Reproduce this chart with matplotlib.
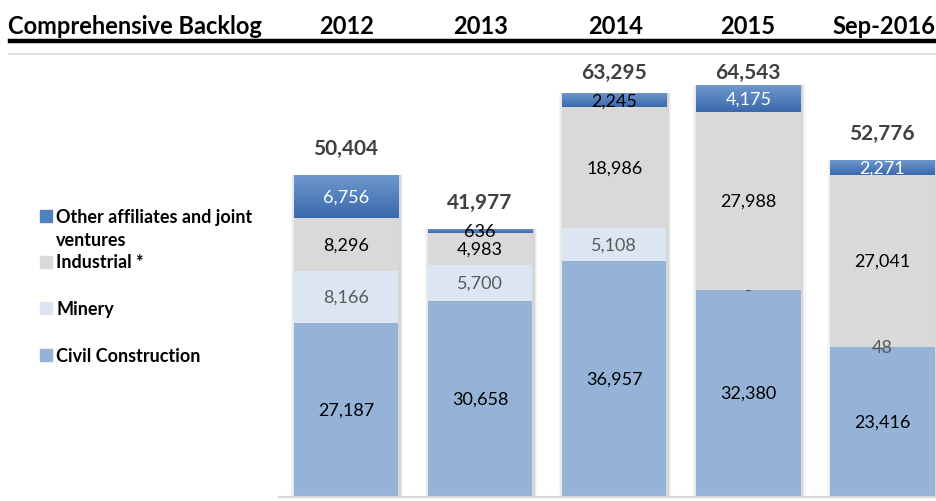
import numpy as np
import matplotlib
matplotlib.use("Agg")
import matplotlib.pyplot as plt
from matplotlib.colors import LinearSegmentedColormap

# ---------------- data ----------------
categories = ["2012", "2013", "2014", "2015", "Sep-2016"]
civil = [27187, 30658, 36957, 32380, 23416]
minery = [8166, 5700, 5108, 0, 48]
industrial = [8296, 4983, 18986, 27988, 27041]
other = [6756, 636, 2245, 4175, 2271]
totals = [50404, 41977, 63295, 64543, 52776]
minery_labels = ["8,166", "5,700", "5,108", "-", "48"]

series_names = ["Other affiliates and joint\nventures", "Industrial *", "Minery", "Civil Construction"]

# ---------------- style ----------------
C_CIVIL = "#95B3D7"
C_MIN = "#DCE6F2"
C_IND = "#D9D9D9"
C_OTH = "#4F81BD"
GRAD_TOP = "#6E97CD"
GRAD_BOT = "#3A69AC"

W, H = 936, 502
fig = plt.figure(figsize=(W / 100, H / 100), dpi=100)

def fx(px):
    return px / W

def fy(py):
    return 1 - py / H

HEAD_FONT = ["Lato", "DejaVu Sans"]
BODY_FONT = ["Lato", "DejaVu Sans"]

# axes: baseline at y=497, top at y=55, left at 279, right at 936
ax = fig.add_axes([fx(279), fy(497), fx(936) - fx(279), (497 - 55) / H])
ymax = 69450
xlim = (-0.5, 4.40)
width = 0.78
x = np.arange(len(categories))

civil_a = np.array(civil)
min_a = np.array(minery)
ind_a = np.array(industrial)
oth_a = np.array(other)

# soft shadow
for k, a in [(4, 0.03), (2.5, 0.05), (1.2, 0.08)]:
    dx = k / 134.0
    ax.bar(x + 1.0 / 134, civil_a + min_a + ind_a + oth_a, width=width + 2 * dx,
           color="#000000", alpha=a, linewidth=0, zorder=1)

ax.bar(x, civil_a, width=width, color=C_CIVIL, linewidth=0, zorder=2)
ax.bar(x, min_a, width=width, bottom=civil_a, color=C_MIN, linewidth=0, zorder=2)
ax.bar(x, ind_a, width=width, bottom=civil_a + min_a, color=C_IND, linewidth=0, zorder=2)
oth_bars = ax.bar(x, oth_a, width=width, bottom=civil_a + min_a + ind_a,
                  color=C_OTH, linewidth=0, zorder=2)

cmap = LinearSegmentedColormap.from_list("g", [GRAD_BOT, GRAD_TOP])
grad = np.linspace(0, 1, 64).reshape(-1, 1)
for p in oth_bars:
    x0, y0 = p.get_x(), p.get_y()
    im = ax.imshow(grad, cmap=cmap, origin="lower", aspect="auto",
                   extent=[x0, x0 + p.get_width(), y0, y0 + p.get_height()], zorder=3)
    im.set_clip_path(p)

ax.set_xlim(*xlim)
ax.set_ylim(0, ymax)
ax.axis("off")

# segment labels
lab_kw = dict(ha="center", va="center", fontsize=13, family=BODY_FONT, zorder=5)
for i in range(len(categories)):
    b0 = civil[i]
    ax.text(x[i], b0 / 2, f"{civil[i]:,}", color="#000000", **lab_kw)
    b1 = b0 + minery[i]
    ax.text(x[i], b0 + minery[i] / 2, minery_labels[i], color="#595959", **lab_kw)
    b2 = b1 + industrial[i]
    ax.text(x[i], b1 + industrial[i] / 2, f"{industrial[i]:,}", color="#000000", **lab_kw)
    small = other[i] < 2500 and i in (1, 2)
    ax.text(x[i], b2 + other[i] / 2, f"{other[i]:,}",
            color="#000000" if small else "#FFFFFF", **lab_kw)
    # totals
    ty = min(totals[i] + 4300, 66600)
    ax.text(x[i], ty, f"{totals[i]:,}", ha="center", va="center", fontsize=15,
            fontweight="bold", color="#404040", family=BODY_FONT, zorder=5)

# baseline
fig.add_artist(plt.Line2D([fx(279), 1], [fy(497.5), fy(497.5)], color="#D9D9D9", lw=1.6))

# header
fig.text(fx(8), fy(26), "Comprehensive Backlog", ha="left", va="center",
         fontsize=17, fontweight="bold", family=HEAD_FONT, color="#000000")
centers = [347, 481, 616, 748, 884]
for c, cat in zip(centers, categories):
    fig.text(fx(c), fy(26), cat, ha="center", va="center", fontsize=17,
             fontweight="bold", family=HEAD_FONT, color="#000000")
fig.add_artist(plt.Line2D([fx(10), 1], [fy(42), fy(42)], color="#000000", lw=3.2))
fig.add_artist(plt.Line2D([fx(9), 1], [fy(55), fy(55)], color="#E0E0E0", lw=1.4))

# legend
leg_cols = [C_OTH, C_IND, C_MIN, C_CIVIL]
leg_y = [217, 263, 309, 356]
text_y = [229, 263, 309, 356]
for name, col, yy, ty in zip(series_names, leg_cols, leg_y, text_y):
    fig.patches.append(plt.Rectangle((fx(40), fy(yy + 6)), fx(12), 12 / H,
                                     transform=fig.transFigure, color=col))
    fig.text(fx(56), fy(ty), name, ha="left", va="center",
             fontsize=13, fontweight="bold", family=BODY_FONT, color="#000000",
             linespacing=1.4)

fig.savefig("out.png", dpi=100)
